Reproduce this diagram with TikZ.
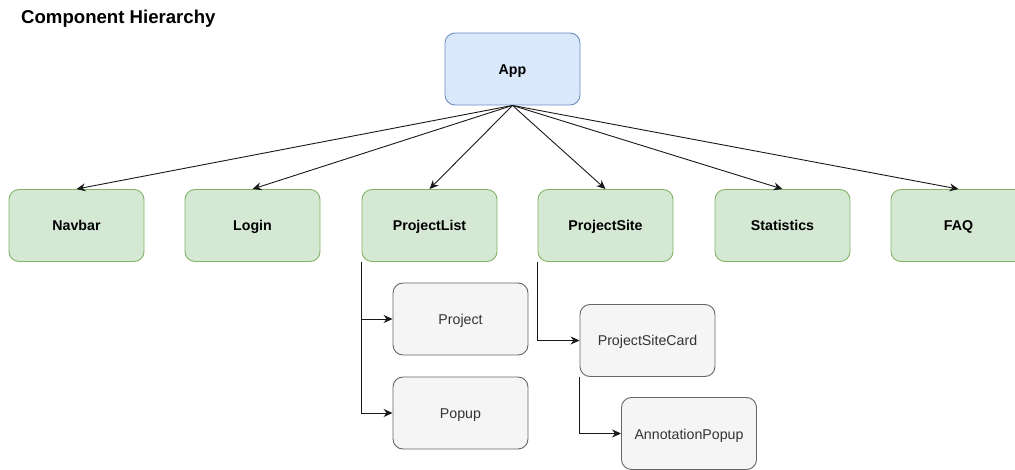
\documentclass[tikz,border=0pt]{standalone}
\usepackage{fontspec}
\setmainfont{Liberation Sans}
\usetikzlibrary{arrows.meta}
\definecolor{appfill}{HTML}{DAE8FC}
\definecolor{appline}{HTML}{6C8EBF}
\definecolor{pagefill}{HTML}{D5E8D4}
\definecolor{pageline}{HTML}{82B366}
\definecolor{subfill}{HTML}{F5F5F5}
\definecolor{subline}{HTML}{666666}
\definecolor{subtext}{HTML}{333333}
\tikzset{
  box/.style={rounded corners=10pt, minimum width=135pt, minimum height=72pt,
    inner sep=0pt, line width=0.9pt, text height=12pt, text depth=1pt},
  rootbox/.style={box, fill=appfill, draw=appline,
    font=\fontsize{14.2}{16}\selectfont\bfseries},
  pagebox/.style={box, fill=pagefill, draw=pageline,
    font=\fontsize{14.2}{16}\selectfont\bfseries},
  subbox/.style={box, fill=subfill, draw=subline, text=subtext,
    font=\fontsize{14.2}{16}\selectfont},
  link/.style={draw=black!90, line width=0.9pt,
    -{Stealth[length=9pt,width=8pt,inset=3pt]}},
}
\begin{document}
\begin{tikzpicture}[x=1pt,y=-1pt]
\useasboundingbox (0,0) rectangle (1015,470);
\clip (0,0) rectangle (1015,470);

% title
\node[anchor=base west, inner sep=0pt, font=\fontsize{18.6}{20}\selectfont\bfseries]
  (title) at (21,24) {Component Hierarchy};

% root component
\node[rootbox] (app) at (512.5,69) {App};

% top-level children
\node[pagebox] (navbar) at (76.5,225.5) {Navbar};
\node[pagebox] (login) at (252.5,225.5) {Login};
\node[pagebox] (plist) at (429.5,225.5) {ProjectList};
\node[pagebox] (psite) at (605.5,225.5) {ProjectSite};
\node[pagebox] (stats) at (782.5,225.5) {Statistics};
\node[pagebox] (faq) at (958.5,225.5) {FAQ};

% nested components
\node[subbox] (project) at (460.5,319) {Project};
\node[subbox] (popup) at (460.5,413) {Popup};
\node[subbox] (pscard) at (647.5,340.5) {ProjectSiteCard};
\node[subbox] (annpop) at (689,433.5) {AnnotationPopup};

% edges from App
\foreach \c in {navbar,login,plist,psite,stats,faq}
  \draw[link] (app.south) -- (\c.north);

% nested edges
\draw[link] (plist.south west) |- (project.west);
\draw[link] (plist.south west) |- (popup.west);
\draw[link] (psite.south west) |- (pscard.west);
\draw[link] (pscard.south west) |- (annpop.west);
\end{tikzpicture}
\end{document}
